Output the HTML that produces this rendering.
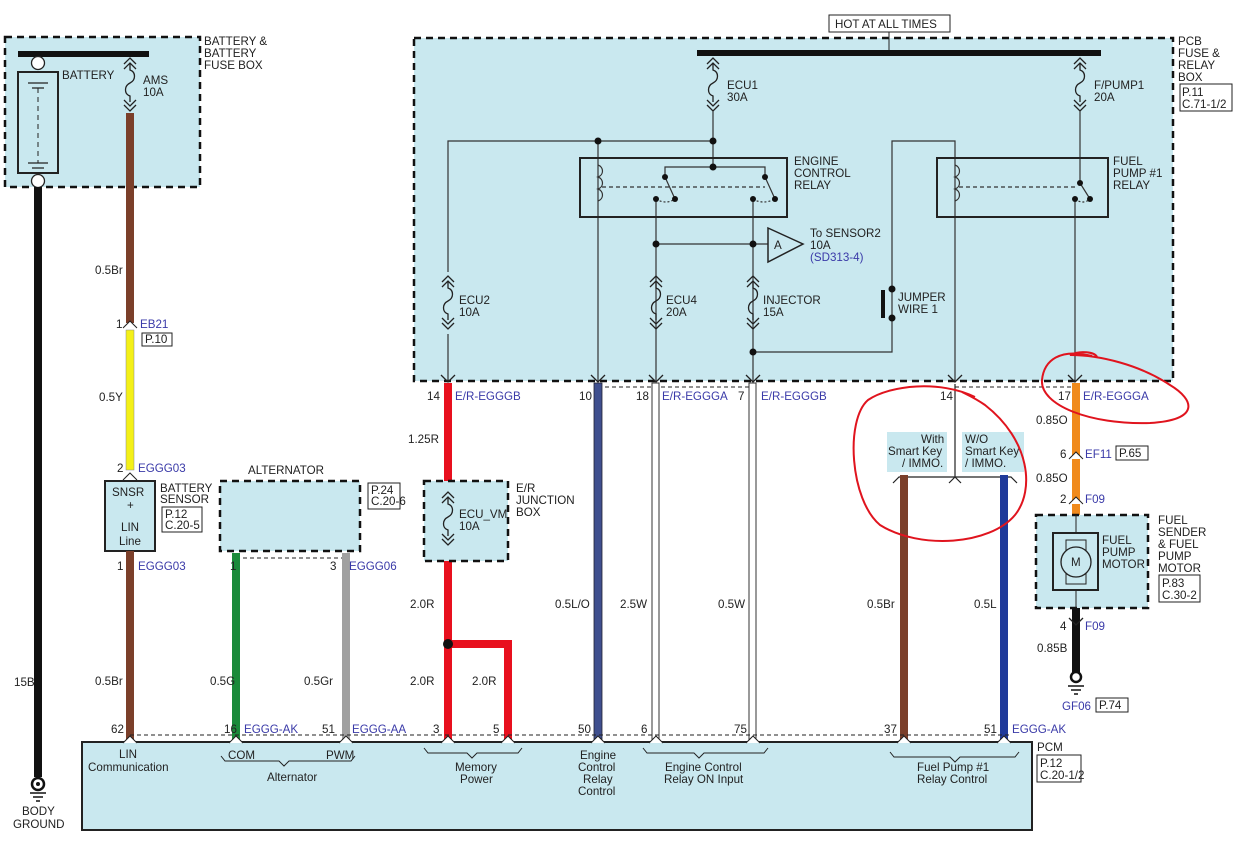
<!DOCTYPE html>
<html><head><meta charset="utf-8"><style>
html,body{margin:0;padding:0;background:#fff;}
svg{display:block;font-family:"Liberation Sans",Arial,sans-serif;}
text{font-size:11.6px;fill:#222;}
.b{fill:#3a3aa8;}
</style></head><body>
<svg width="1240" height="843" viewBox="0 0 1240 843" xmlns="http://www.w3.org/2000/svg">
<defs>
<g id="fuse" fill="none" stroke="#222" stroke-width="1.3">
<path d="M-6,6 L0,0 L6,6 M-6,11 L0,5 L6,11"/>
<path d="M0,5 L0,12 C6,14 6,22 0,25 C-6,28 -6,36 0,38 L0,44"/>
<path d="M-6,42 L0,48 L6,42 M-6,47 L0,53 L6,47"/>
</g>
<g id="fem"><path d="M-7,-6 L0,1 L7,-6" fill="none" stroke="#222" stroke-width="1.3"/></g>
<g id="pin"><path d="M-7,6 L0,-1 L7,6" fill="#fff" stroke="#222" stroke-width="1"/></g>
</defs>

<!-- Battery box -->
<rect x="5" y="37" width="195" height="150" fill="#c9e8ef" stroke="#111" stroke-width="2.5" stroke-dasharray="7,5"/>
<text x="204" y="45">BATTERY &amp;</text><text x="204" y="57">BATTERY</text><text x="204" y="69">FUSE BOX</text>
<rect x="18" y="51" width="131" height="6" fill="#111"/>
<rect x="18" y="72" width="40" height="101" fill="none" stroke="#222" stroke-width="2"/>
<path d="M28,83 H48 M32,88 H44 M28,163 H48 M32,168 H44" stroke="#222" stroke-width="1.3" fill="none"/>
<path d="M38,88 V163" stroke="#222" stroke-width="1" stroke-dasharray="5,4"/>
<circle cx="38" cy="63" r="6.5" fill="#fff" stroke="#222" stroke-width="1.3"/>
<circle cx="38" cy="181" r="6.5" fill="#fff" stroke="#222" stroke-width="1.3"/>
<text x="62" y="79">BATTERY</text>
<use href="#fuse" x="130" y="58"/>
<text x="143" y="84">AMS</text><text x="143" y="96">10A</text>
<rect x="34" y="187" width="8" height="590" fill="#111"/>
<text x="14" y="686">15B</text>
<circle cx="38" cy="784" r="6" fill="none" stroke="#111" stroke-width="2.5"/><circle cx="38" cy="784" r="2" fill="#111"/>
<path d="M30,793 H46 M33,797 H43 M36,801 H40" stroke="#111" stroke-width="1.5"/>
<text x="22" y="815">BODY</text><text x="13" y="828">GROUND</text>

<!-- Battery sensor wires -->
<rect x="126" y="113" width="8" height="210" fill="#7b3f2a"/>
<text x="95" y="274">0.5Br</text>
<use href="#pin" x="130" y="322"/>
<text x="116" y="328">1</text><text x="140" y="328" class="b">EB21</text>
<rect x="142" y="333" width="30" height="13" fill="#fff" stroke="#222"/><text x="145" y="343">P.10</text>
<rect x="126" y="330" width="8" height="140" fill="#f4f018" stroke="#888" stroke-width="0.5"/>
<text x="99" y="401">0.5Y</text>
<text x="117" y="472">2</text><text x="138" y="472" class="b">EGGG03</text>
<use href="#pin" x="130" y="474"/>
<rect x="105" y="481" width="50" height="70" fill="#c9e8ef" stroke="#222" stroke-width="2"/>
<text x="112" y="496">SNSR</text><text x="127" y="509">+</text><text x="121" y="531">LIN</text><text x="119" y="545">Line</text>
<text x="160" y="492">BATTERY</text><text x="160" y="503">SENSOR</text>
<rect x="162" y="507" width="40" height="25" fill="#fff" stroke="#222"/><text x="165" y="518">P.12</text><text x="165" y="529">C.20-5</text>
<rect x="126" y="551" width="8" height="190" fill="#7b3f2a"/>
<text x="117" y="570">1</text><text x="138" y="570" class="b">EGGG03</text>
<text x="95" y="685">0.5Br</text>

<!-- Alternator -->
<text x="248" y="474">ALTERNATOR</text>
<rect x="220" y="481" width="140" height="70" fill="#c9e8ef" stroke="#111" stroke-width="2.5" stroke-dasharray="7,5"/>
<rect x="368" y="483" width="32" height="26" fill="#fff" stroke="#222"/><text x="371" y="494">P.24</text><text x="371" y="505">C.20-6</text>
<path d="M236,558 H346" stroke="#222" stroke-dasharray="4,3"/>
<rect x="232" y="553" width="8" height="187" fill="#1a8a3a"/>
<rect x="342" y="553" width="8" height="187" fill="#a0a0a0"/>
<text x="230" y="570">1</text><text x="330" y="570">3</text><text x="349" y="570" class="b">EGGG06</text>
<text x="210" y="685">0.5G</text><text x="304" y="685">0.5Gr</text>

<!-- PCB fuse & relay box -->
<rect x="414" y="38" width="759" height="343" fill="#c9e8ef" stroke="#111" stroke-width="2.5" stroke-dasharray="7,5"/>
<rect x="829" y="15" width="121" height="17" fill="#fff" stroke="#222"/><text x="835" y="28">HOT AT ALL TIMES</text>
<path d="M889,32 V52" stroke="#222"/>
<rect x="697" y="50" width="404" height="6" fill="#111"/>
<text x="1178" y="45">PCB</text><text x="1178" y="57">FUSE &amp;</text><text x="1178" y="69">RELAY</text><text x="1178" y="81">BOX</text>
<rect x="1180" y="84" width="52" height="27" fill="#fff" stroke="#222"/><text x="1182" y="96">P.11</text><text x="1182" y="108">C.71-1/2</text>
<use href="#fuse" x="713" y="58"/><text x="727" y="89">ECU1</text><text x="727" y="101">30A</text>
<use href="#fuse" x="1080" y="58"/><text x="1094" y="89">F/PUMP1</text><text x="1094" y="101">20A</text>
<g stroke="#333" stroke-width="1.2" fill="none">
<path d="M713,111 V167 M448,381 V141 H713"/>
<path d="M598,141 V381"/>
<path d="M1080,111 V183"/>
<path d="M665,177 V167 H765 V177"/>
<path d="M656,199 V381 M753,199 V381 M656,244 H768"/>
<path d="M753,352 H892 V141 H955 V381"/>
<path d="M1075,199 V381"/>
<path d="M598,165 c6,2 6,10 0,12 c6,2 6,10 0,12 c6,2 6,10 0,12" />
<path d="M955,165 c6,2 6,10 0,12 c6,2 6,10 0,12 c6,2 6,10 0,12" />
<path d="M602,187 H765" stroke-dasharray="4,3"/>
<path d="M959,187 H1078" stroke-dasharray="4,3"/>
<path d="M665,177 L675,199 M765,177 L775,199 M1080,183 L1090,199"/>
<path d="M656,199 q10,6 19,0 M753,199 q10,6 22,0 M1075,199 q8,6 15,0" stroke-dasharray="2,2"/>
</g>
<rect x="580" y="158" width="207" height="59" fill="none" stroke="#222" stroke-width="2"/>
<rect x="937" y="158" width="171" height="59" fill="none" stroke="#222" stroke-width="2"/>
<g fill="#111">
<circle cx="598" cy="141" r="3.5"/><circle cx="713" cy="141" r="3.5"/><circle cx="713" cy="167" r="3.5"/>
<circle cx="665" cy="177" r="3"/><circle cx="765" cy="177" r="3"/><circle cx="675" cy="199" r="3"/><circle cx="775" cy="199" r="3"/>
<circle cx="656" cy="199" r="3"/><circle cx="753" cy="199" r="3"/>
<circle cx="656" cy="244" r="3.5"/><circle cx="753" cy="244" r="3.5"/><circle cx="753" cy="352" r="3.5"/>
<circle cx="1080" cy="183" r="3"/><circle cx="1090" cy="199" r="3"/><circle cx="1075" cy="199" r="3"/>
<circle cx="892" cy="289" r="3.5"/><circle cx="892" cy="318" r="3.5"/>
</g>
<rect x="881" y="290" width="4" height="28" fill="#111"/>
<text x="794" y="165">ENGINE</text><text x="794" y="177">CONTROL</text><text x="794" y="189">RELAY</text>
<text x="1113" y="165">FUEL</text><text x="1113" y="177">PUMP #1</text><text x="1113" y="189">RELAY</text>
<path d="M768,228 L803,244 L768,262 Z" fill="#c9e8ef" stroke="#222" stroke-width="1.5"/><text x="774" y="249">A</text>
<text x="810" y="237">To SENSOR2</text><text x="810" y="249">10A</text><text x="810" y="261" class="b">(SD313-4)</text>
<rect x="444" y="272" width="8" height="62" fill="#c9e8ef"/>
<use href="#fuse" x="448" y="276"/><text x="459" y="304">ECU2</text><text x="459" y="316">10A</text>
<use href="#fuse" x="656" y="276"/><text x="666" y="304">ECU4</text><text x="666" y="316">20A</text>
<use href="#fuse" x="753" y="276"/><text x="763" y="304">INJECTOR</text><text x="763" y="316">15A</text>
<text x="898" y="301">JUMPER</text><text x="898" y="313">WIRE 1</text>

<!-- connectors row y 381 -->
<path d="M598,387 H750 M955,387 H1075" stroke="#222" stroke-dasharray="4,3"/>
<g>
<use href="#fem" x="448" y="381"/><use href="#fem" x="598" y="381"/><use href="#fem" x="656" y="381"/><use href="#fem" x="753" y="381"/><use href="#fem" x="955" y="381"/><use href="#fem" x="1075" y="381"/>
</g>
<!-- red wire -->
<rect x="444" y="383" width="8" height="357" fill="#e8101e"/>
<text x="427" y="400">14</text><text x="455" y="400" class="b">E/R-EGGGB</text>
<text x="408" y="443">1.25R</text>
<rect x="424" y="481" width="84" height="80" fill="#c9e8ef" stroke="#111" stroke-width="2.5" stroke-dasharray="7,5"/>
<rect x="444" y="490" width="8" height="62" fill="#c9e8ef"/>
<use href="#fuse" x="448" y="492"/><text x="459" y="518">ECU_VM</text><text x="459" y="530">10A</text>
<text x="516" y="492">E/R</text><text x="516" y="504">JUNCTION</text><text x="516" y="516">BOX</text>
<text x="410" y="608">2.0R</text><text x="410" y="685">2.0R</text><text x="472" y="685">2.0R</text>
<path d="M448,644 H508 V740" fill="none" stroke="#e8101e" stroke-width="8"/>
<circle cx="448" cy="644" r="5" fill="#111"/>
<!-- blue 10 -->
<rect x="594" y="383" width="8" height="357" fill="#3f4f8e" stroke="#223" stroke-width="0.8"/>
<text x="579" y="400">10</text><text x="555" y="608">0.5L/O</text>
<!-- white -->
<rect x="652" y="383" width="7" height="357" fill="#fff" stroke="#333" stroke-width="1"/>
<rect x="749" y="383" width="7" height="357" fill="#fff" stroke="#333" stroke-width="1"/>
<text x="636" y="400">18</text><text x="662" y="400" class="b">E/R-EGGGA</text>
<text x="738" y="400">7</text><text x="761" y="400" class="b">E/R-EGGGB</text>
<text x="620" y="608">2.5W</text><text x="718" y="608">0.5W</text>
<!-- smart key -->
<path d="M955,384 V477 M893,483 L899,477 H1011 L1017,483 M955,477 L949,483 M955,477 L961,483" stroke="#222" stroke-width="1.2" fill="none"/>
<rect x="887" y="432" width="60" height="40" fill="#c9e8ef"/>
<rect x="962" y="432" width="62" height="40" fill="#c9e8ef"/>
<text x="921" y="443">With</text><text x="888" y="455">Smart Key</text><text x="902" y="467">/ IMMO.</text>
<text x="965" y="443">W/O</text><text x="965" y="455">Smart Key</text><text x="965" y="467">/ IMMO.</text>
<text x="940" y="400">14</text>
<rect x="900" y="475" width="8" height="265" fill="#7b3f2a"/>
<rect x="1000" y="475" width="8" height="265" fill="#1f3a9a"/>
<text x="867" y="608">0.5Br</text><text x="974" y="608">0.5L</text>
<!-- orange -->
<rect x="1072" y="383" width="8" height="132" fill="#f08a1c"/>
<text x="1058" y="400">17</text><text x="1083" y="400" class="b">E/R-EGGGA</text>
<text x="1036" y="424">0.85O</text>
<use href="#pin" x="1076" y="453"/><text x="1060" y="458">6</text><text x="1085" y="458" class="b">EF11</text>
<rect x="1116" y="446" width="32" height="14" fill="#fff" stroke="#222"/><text x="1119" y="457">P.65</text>
<text x="1036" y="482">0.85O</text>
<use href="#pin" x="1076" y="498"/><text x="1060" y="503">2</text><text x="1085" y="503" class="b">F09</text>
<rect x="1036" y="515" width="112" height="93" fill="#c9e8ef" stroke="#111" stroke-width="2.5" stroke-dasharray="7,5"/>
<text x="1158" y="524">FUEL</text><text x="1158" y="536">SENDER</text><text x="1158" y="548">&amp; FUEL</text><text x="1158" y="560">PUMP</text><text x="1158" y="572">MOTOR</text>
<rect x="1159" y="575" width="41" height="27" fill="#fff" stroke="#222"/><text x="1162" y="587">P.83</text><text x="1162" y="599">C.30-2</text>
<rect x="1053" y="533" width="45" height="57" fill="none" stroke="#222" stroke-width="2"/>
<rect x="1066" y="540" width="20" height="10" fill="none" stroke="#222"/><rect x="1066" y="574" width="20" height="10" fill="none" stroke="#222"/>
<circle cx="1076" cy="562" r="15" fill="#c9e8ef" stroke="#222" stroke-width="1.3"/><text x="1071" y="566">M</text>
<path d="M1076,515 V533 M1076,590 V608" stroke="#222"/>
<text x="1102" y="544">FUEL</text><text x="1102" y="556">PUMP</text><text x="1102" y="568">MOTOR</text>
<rect x="1072" y="608" width="8" height="65" fill="#111"/>
<use href="#fem" x="1076" y="624"/><text x="1060" y="630">4</text><text x="1085" y="630" class="b">F09</text>
<text x="1037" y="652">0.85B</text>
<circle cx="1076" cy="677" r="5" fill="none" stroke="#111" stroke-width="2.5"/>
<path d="M1068,686 H1084 M1071,690 H1081 M1074,694 H1078" stroke="#111" stroke-width="1.5"/>
<text x="1062" y="710" class="b">GF06</text>
<rect x="1096" y="698" width="32" height="14" fill="#fff" stroke="#222"/><text x="1099" y="709">P.74</text>

<!-- PCM -->
<path d="M130,735 H1010" stroke="#222" stroke-dasharray="4,3"/>
<rect x="82" y="742" width="950" height="88" fill="#c9e8ef" stroke="#222" stroke-width="2"/>
<g>
<use href="#pin" x="130" y="737"/><use href="#pin" x="236" y="737"/><use href="#pin" x="346" y="737"/><use href="#pin" x="448" y="737"/><use href="#pin" x="508" y="737"/><use href="#pin" x="598" y="737"/><use href="#pin" x="656" y="737"/><use href="#pin" x="753" y="737"/><use href="#pin" x="904" y="737"/><use href="#pin" x="1004" y="737"/>
</g>
<text x="111" y="733">62</text><text x="224" y="733">16</text><text x="244" y="733" class="b">EGGG-AK</text>
<text x="322" y="733">51</text><text x="352" y="733" class="b">EGGG-AA</text>
<text x="433" y="733">3</text><text x="493" y="733">5</text><text x="578" y="733">50</text><text x="641" y="733">6</text>
<text x="734" y="733">75</text><text x="884" y="733">37</text><text x="984" y="733">51</text><text x="1012" y="733" class="b">EGGG-AK</text>
<text x="1037" y="751">PCM</text>
<rect x="1037" y="755" width="44" height="27" fill="#fff" stroke="#222"/><text x="1040" y="767">P.12</text><text x="1040" y="779">C.20-1/2</text>
<g fill="none" stroke="#222" stroke-width="1">
<path d="M221,756 l4,5 H279 l5,5 l5,-5 H351 l4,-5"/>
<path d="M424,748 l4,5 H467 l5,5 l5,-5 H518 l4,-5"/>
<path d="M643,748 l4,5 H694 l5,5 l5,-5 H764 l4,-5"/>
<path d="M890,752 l4,5 H950 l5,5 l5,-5 H1015 l4,-5"/>
</g>
<text x="119" y="758">LIN</text><text x="88" y="771">Communication</text>
<text x="228" y="759">COM</text><text x="326" y="759">PWM</text><text x="267" y="781">Alternator</text>
<text x="455" y="771">Memory</text><text x="460" y="783">Power</text>
<text x="580" y="759">Engine</text><text x="578" y="771">Control</text><text x="583" y="783">Relay</text><text x="578" y="795">Control</text>
<text x="665" y="771">Engine Control</text><text x="664" y="783">Relay ON Input</text>
<text x="917" y="771">Fuel Pump #1</text><text x="917" y="783">Relay Control</text>

<!-- red annotation circles -->
<g fill="none" stroke="#e0141e" stroke-width="2">
<path d="M1092,356 C1060,348 1044,360 1042,380 C1040,405 1090,425 1150,423 C1200,420 1195,400 1170,385 C1140,365 1100,355 1070,355 C1080,350 1095,352 1097,357"/>
<path d="M975,397 C940,380 890,385 868,400 C845,420 850,500 880,525 C920,550 990,545 1015,515 C1035,490 1030,440 985,405 C975,398 968,395 962,392"/>
</g>
</svg>
</body></html>
